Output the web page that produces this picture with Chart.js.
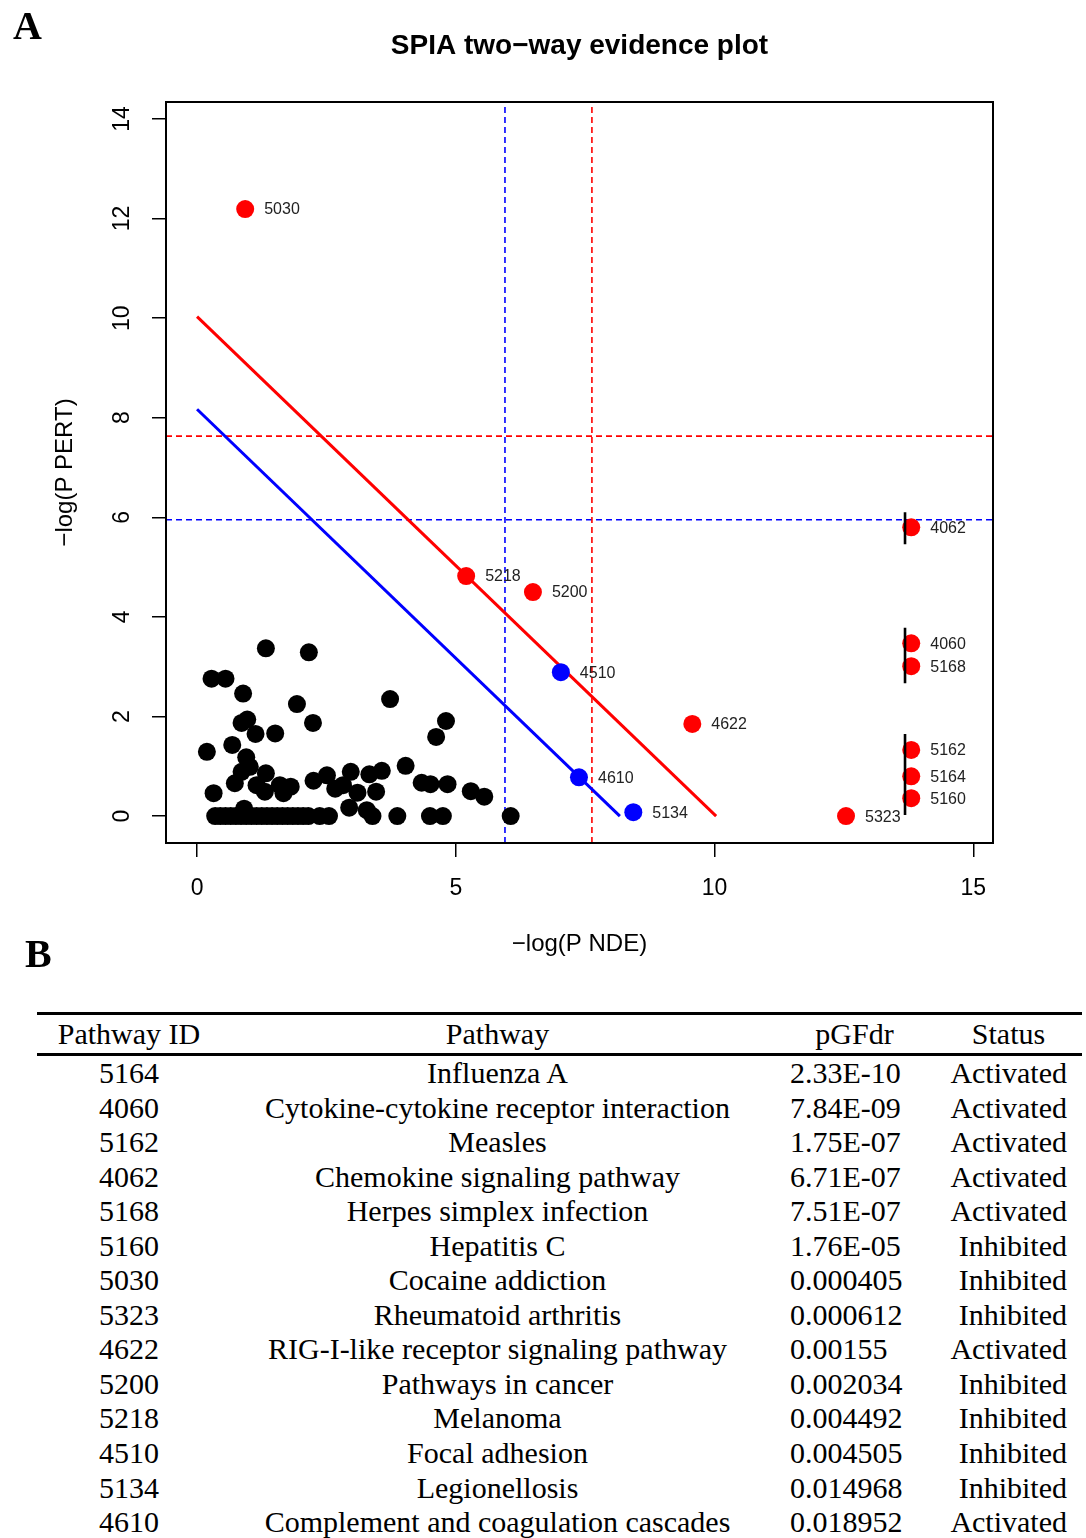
<!DOCTYPE html>
<html>
<head>
<meta charset="utf-8">
<script src="https://cdn.jsdelivr.net/npm/chart.js@4.4.1/dist/chart.umd.min.js"></script>
<style>
  html, body { margin: 0; padding: 0; background: #fff; width: 1086px; height: 1538px; overflow: hidden; }
  body { position: relative; }
  #plot { position: absolute; left: 0; top: 0; }
  .panel { position: absolute; font-family: "Liberation Serif", "Times New Roman", serif; font-weight: bold; font-size: 40px; line-height: 1; }
  table { position: absolute; left: 37px; top: 1012px; width: 1045px; border-collapse: collapse; table-layout: fixed;
          font-family: "Liberation Serif", "Times New Roman", serif; font-size: 30px; color: #000; }
  th { font-weight: normal; height: 38px; padding: 0; border-top: 3px solid #000; border-bottom: 3px solid #000; text-align: center; vertical-align: middle; }
  td { height: 34.55px; padding: 0; text-align: center; vertical-align: middle; white-space: nowrap; line-height: 34.55px; }
  td.p { text-align: left; padding-left: 16px; }
  td.s { text-align: right; padding-right: 15px; }
</style>
</head>
<body>
<canvas id="plot" width="1086" height="970"></canvas>
<div class="panel" style="left:13px; top:6px;">A</div>
<div class="panel" style="left:25px; top:934px;">B</div>
<table id="tbl">
  <colgroup><col style="width:184px"><col style="width:553px"><col style="width:161px"><col style="width:147px"></colgroup>
  <thead><tr><th>Pathway ID</th><th>Pathway</th><th>pGFdr</th><th>Status</th></tr></thead>
  <tbody></tbody>
</table>
<script>
// axis settings
const xTicks = [0, 5, 10, 15];
const yTicks = [0, 2, 4, 6, 8, 10, 12, 14];
const xRange = [-0.6, 15.38];
const yRange = [-0.54, 14.34];

// thresholds
const fdrLine = 10.03;   // red solid, x + y = const
const fwerLine = 8.17;   // blue solid
const fdrCut = 7.63;     // red dashed
const fwerCut = 5.95;    // blue dashed

// significant pathways (red)
const redIds = ["5030", "5218", "5200", "4622", "5323", "4062", "4060", "5168", "5162", "5164", "5160"];
const redX = [0.93, 5.20, 6.49, 9.57, 12.54, 13.80, 13.80, 13.80, 13.80, 13.80, 13.80];
const redY = [12.19, 4.82, 4.50, 1.85, 0, 5.80, 3.47, 3.01, 1.33, 0.80, 0.36];

// significant pathways (blue)
const blueIds = ["4510", "4610", "5134"];
const blueX = [7.03, 7.38, 8.43];
const blueY = [2.89, 0.78, 0.08];

// other pathways (black)
const blackX = [1.33, 2.16, 0.28, 0.55, 0.89, 1.93, 3.73, 2.24, 0.86, 0.97, 1.13, 1.51, 4.81, 4.62,
  0.19, 0.68, 0.95, 1.02, 0.86, 1.33, 0.32, 0.73, 1.15, 1.31, 1.60, 1.81, 1.67, 2.25, 2.51, 2.67,
  2.82, 2.97, 3.10, 2.94, 3.33, 3.57, 3.46, 3.28, 3.39, 4.03, 4.34, 4.51, 4.84, 5.29, 5.55, 6.06,
  3.87, 4.50, 4.75, 0.91,
  0.35, 0.45, 0.55, 0.65, 0.75, 0.85, 0.95, 1.05, 1.15, 1.25, 1.35, 1.45, 1.55, 1.65, 1.75, 1.85,
  1.95, 2.05, 2.15, 2.37, 2.55];
const blackY = [3.37, 3.29, 2.76, 2.76, 2.46, 2.25, 2.35, 1.87, 1.87, 1.94, 1.65, 1.66, 1.91, 1.59,
  1.29, 1.43, 1.18, 0.99, 0.89, 0.86, 0.46, 0.66, 0.62, 0.49, 0.62, 0.59, 0.46, 0.71, 0.82, 0.55,
  0.62, 0.89, 0.47, 0.17, 0.84, 0.91, 0.49, 0.12, 0, 1.01, 0.67, 0.64, 0.64, 0.50, 0.39, 0,
  0, 0, 0, 0.15,
  0, 0, 0, 0, 0, 0, 0, 0, 0, 0, 0, 0, 0, 0, 0, 0,
  0, 0, 0, 0, 0];

// vertical bars at the right edge
const rugX = 13.68;
const rugSegments = [[6.10, 5.46], [3.78, 2.67], [1.65, 0.02]];

// table
const tableIds = ["5164", "4060", "5162", "4062", "5168", "5160", "5030", "5323", "4622", "5200", "5218", "4510", "5134", "4610"];
const tablePathways = ["Influenza A", "Cytokine-cytokine receptor interaction", "Measles", "Chemokine signaling pathway",
  "Herpes simplex infection", "Hepatitis C", "Cocaine addiction", "Rheumatoid arthritis",
  "RIG-I-like receptor signaling pathway", "Pathways in cancer", "Melanoma", "Focal adhesion",
  "Legionellosis", "Complement and coagulation cascades"];
const tablePgfdr = ["2.33E-10", "7.84E-09", "1.75E-07", "6.71E-07", "7.51E-07", "1.76E-05", "0.000405", "0.000612",
  "0.00155", "0.002034", "0.004492", "0.004505", "0.014968", "0.018952"];
const tableStatus = ["Activated", "Activated", "Activated", "Activated", "Activated", "Inhibited", "Inhibited", "Inhibited",
  "Activated", "Inhibited", "Inhibited", "Inhibited", "Inhibited", "Activated"];

const tbody = document.querySelector("#tbl tbody");
tableIds.forEach((id, i) => {
  const tr = document.createElement("tr");
  tr.innerHTML = `<td>${id}</td><td>${tablePathways[i]}</td><td class="p">${tablePgfdr[i]}</td><td class="s">${tableStatus[i]}</td>`;
  tbody.appendChild(tr);
});

const toPts = (xs, ys) => xs.map((x, i) => ({ x: x, y: ys[i] }));

Chart.defaults.font.family = '"Liberation Sans", Arial, Helvetica, sans-serif';
Chart.defaults.color = "#000";

// box around the plot region
const boxPlugin = {
  id: "box",
  afterDraw(chart) {
    const a = chart.chartArea;
    const ctx = chart.ctx;
    ctx.save();
    ctx.strokeStyle = "#000";
    ctx.lineWidth = 2;
    ctx.strokeRect(a.left, a.top, a.right - a.left, a.bottom - a.top);
    ctx.restore();
  }
};

// pathway ids next to points
const labelPlugin = {
  id: "pointIds",
  afterDatasetsDraw(chart) {
    const ctx = chart.ctx;
    ctx.save();
    ctx.font = '16px "Liberation Sans", Arial, sans-serif';
    ctx.fillStyle = "#222";
    ctx.textBaseline = "middle";
    ctx.textAlign = "left";
    chart.data.datasets.forEach((ds, i) => {
      if (!ds.ids) return;
      chart.getDatasetMeta(i).data.forEach((pt, j) => ctx.fillText(ds.ids[j], pt.x + 19, pt.y + 1));
    });
    ctx.restore();
  }
};

const lineDs = (pts, color, width, dash, order) => ({
  data: pts, showLine: true, pointRadius: 0, borderColor: color, borderWidth: width,
  borderDash: dash, order: order, fill: false
});

const datasets = [
  lineDs([{ x: xRange[0], y: fdrCut }, { x: xRange[1], y: fdrCut }], "#ff0000", 1.6, [6, 4], 10),
  lineDs([{ x: fdrCut, y: yRange[0] }, { x: fdrCut, y: yRange[1] }], "#ff0000", 1.6, [6, 4], 10),
  lineDs([{ x: xRange[0], y: fwerCut }, { x: xRange[1], y: fwerCut }], "#0000ff", 1.6, [6, 4], 10),
  lineDs([{ x: fwerCut, y: yRange[0] }, { x: fwerCut, y: yRange[1] }], "#0000ff", 1.6, [6, 4], 10),
  lineDs([{ x: 0, y: fdrLine }, { x: fdrLine, y: 0 }], "#ff0000", 3, [], 9),
  lineDs([{ x: 0, y: fwerLine }, { x: fwerLine, y: 0 }], "#0000ff", 3, [], 9),
  { data: toPts(blackX, blackY), pointRadius: 9, pointBackgroundColor: "#000", pointBorderWidth: 0, order: 5 },
  { data: toPts(redX, redY), ids: redIds, pointRadius: 9, pointBackgroundColor: "#ff0000", pointBorderWidth: 0, order: 4 },
  { data: toPts(blueX, blueY), ids: blueIds, pointRadius: 9, pointBackgroundColor: "#0000ff", pointBorderWidth: 0, order: 4 },
  ...rugSegments.map(s => lineDs([{ x: rugX, y: s[0] }, { x: rugX, y: s[1] }], "#000", 2.6, [], 1))
];

new Chart(document.getElementById("plot"), {
  type: "scatter",
  data: { datasets: datasets },
  options: {
    responsive: false,
    devicePixelRatio: 1,
    animation: false,
    events: [],
    layout: { padding: { left: 0, right: 93, top: 0, bottom: 0 } },
    plugins: {
      legend: { display: false },
      tooltip: { enabled: false },
      title: {
        display: true,
        text: "SPIA two\u2212way evidence plot",
        fullSize: false,
        color: "#000",
        font: { size: 28, weight: "bold" },
        padding: { top: 29, bottom: 39.4 }
      }
    },
    scales: {
      x: {
        type: "linear",
        min: xRange[0],
        max: xRange[1],
        afterBuildTicks: s => { s.ticks = xTicks.map(v => ({ value: v })); },
        afterFit: s => { s.height = 127; },
        grid: { drawOnChartArea: false, drawTicks: true, tickLength: 14, color: "#000", lineWidth: 1.5 },
        border: { display: false },
        ticks: { font: { size: 23 }, color: "#000", padding: 18, maxRotation: 0, minRotation: 0 },
        title: { display: true, text: "\u2212log(P NDE)", font: { size: 24 }, color: "#000", padding: { top: 0, bottom: 11.6 } }
      },
      y: {
        type: "linear",
        min: yRange[0],
        max: yRange[1],
        afterBuildTicks: s => { s.ticks = yTicks.map(v => ({ value: v })); },
        afterFit: s => { s.width = 166; },
        grid: { drawOnChartArea: false, drawTicks: true, tickLength: 14, color: "#000", lineWidth: 1.5 },
        border: { display: false },
        ticks: { font: { size: 23 }, color: "#000", padding: 17, minRotation: 90, maxRotation: 90, crossAlign: "center" },
        title: { display: true, text: "\u2212log(P PERT)", font: { size: 24 }, color: "#000", padding: { top: 50.6, bottom: 0 } }
      }
    }
  },
  plugins: [boxPlugin, labelPlugin]
});
</script>
</body>
</html>
